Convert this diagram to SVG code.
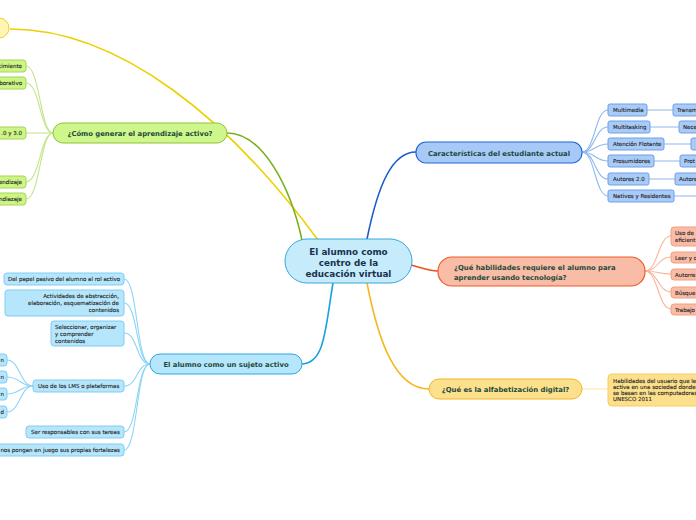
<svg xmlns="http://www.w3.org/2000/svg" width="696" height="520" viewBox="0 0 696 520">
<style>
text{font-family:"DejaVu Sans","Liberation Sans",sans-serif}
.tm{font-size:8.8px;font-weight:bold;fill:#17324e;text-anchor:middle}
.t1{font-size:6.85px;font-weight:bold;fill:#1b4a3a}
.tc{font-size:5.5px;fill:#262626;stroke:#262626;stroke-width:0.12}
.c{fill:none;stroke-width:1.1}
.m{fill:none;stroke-width:1.6}
.gN{fill:#cff68a;stroke:#8cc43c}
.gC{fill:#cdf585;stroke:#a5d655}
.bN{fill:#a6c9f8;stroke:#1f68d6;stroke-width:1.2}
.bC{fill:#a9cbf8;stroke:#6f9fe8}
.sN{fill:#f9bca6;stroke:#ee5b28;stroke-width:1.2}
.sC{fill:#f9bca6;stroke:#f39f80}
.oN{fill:#fde08c;stroke:#f3b62c}
.oC{fill:#fde08c;stroke:#f7cc66}
.lN{fill:#b6e6fc;stroke:#28a7e0}
.lC{fill:#b6e6fc;stroke:#7fcdf2}
</style>
<g id="connectors">
<path class="m" stroke="#ecd000" d="M10,29 C120,29 230,120 318,240"/>
<path class="m" stroke="#76b01a" d="M227,133 C262,133 290,185 302,240"/>
<path class="m" stroke="#1a5ccc" d="M367,239 C378,185 392,152 416,152"/>
<path class="m" stroke="#e8501e" d="M411,265 C422,268 428,271 438,271"/>
<path class="m" stroke="#f5b820" d="M367,283 C378,340 395,389 429,389"/>
<path class="m" stroke="#1aa0dc" d="M333,283 C325,330 325,364 301,364"/>
<g stroke="#c3e58a">
<path class="c" d="M53,133 C40,133 40,66 26,66"/>
<path class="c" d="M53,133 C40,133 40,83 26,83"/>
<path class="c" d="M53,133 L26,133"/>
<path class="c" d="M53,133 C40,133 40,182 26,182"/>
<path class="c" d="M53,133 C40,133 40,199 26,199"/>
</g>
<g stroke="#8fb8ef">
<path class="c" d="M582,152 C595,152 595,110 608,110"/>
<path class="c" d="M582,152 C595,152 595,127 608,127"/>
<path class="c" d="M582,152 C595,152 595,144 608,144"/>
<path class="c" d="M582,152 C595,152 595,161 608,161"/>
<path class="c" d="M582,152 C595,152 595,179 608,179"/>
<path class="c" d="M582,152 C595,152 595,196 608,196"/>
<path class="c" d="M647,110 L673,110 M650,127 L679,127 M664,144 L691,144 M654,161 L680,161 M649,179 L675,179 M674,196 L696,196"/>
</g>
<g stroke="#f8b49a">
<path class="c" d="M645,271 C658,271 658,236 671,236"/>
<path class="c" d="M645,271 C658,271 658,257 671,257"/>
<path class="c" d="M645,271 C658,271 658,274 671,274"/>
<path class="c" d="M645,271 C658,271 658,292 671,292"/>
<path class="c" d="M645,271 C658,271 658,309 671,309"/>
</g>
<path class="c" stroke="#fde6a6" d="M582,389 L608,389"/>
<g stroke="#8dd5f5">
<path class="c" d="M150,364 C136,364 138,279 124,279"/>
<path class="c" d="M150,364 C136,364 138,303 124,303"/>
<path class="c" d="M150,364 C136,364 138,333 124,333"/>
<path class="c" d="M150,364 C136,364 138,386 124,386"/>
<path class="c" d="M150,364 C136,364 138,432 124,432"/>
<path class="c" d="M150,364 C136,364 138,450 124,450"/>
<path class="c" d="M33,386 C20,386 20,360 7,360"/>
<path class="c" d="M33,386 C20,386 20,377 7,377"/>
<path class="c" d="M33,386 C20,386 20,394 7,394"/>
<path class="c" d="M33,386 C20,386 20,412 7,412"/>
</g>
</g>
<g id="center">
<rect x="285" y="239" width="127" height="44" rx="22" fill="#c6ebfb" stroke="#36a6dc"/>
<text class="tm" x="348.5" y="255">El alumno como</text>
<text class="tm" x="348.5" y="266">centro de la</text>
<text class="tm" x="348.5" y="276.5">educación virtual</text>
</g>
<g id="yellow-node">
<circle cx="-1" cy="28" r="10" fill="#fff6b2" stroke="#f0d020"/>
</g>
<g id="green">
<rect class="gN" x="53" y="123" width="174" height="20" rx="10"/>
<text class="t1" x="140" y="135.5" text-anchor="middle">¿Cómo generar  el aprendizaje activo?</text>
<rect class="gC" x="-60" y="60" width="86" height="12" rx="3"/>
<text class="tc" x="22" y="68" text-anchor="end">cimiento</text>
<rect class="gC" x="-60" y="77" width="86" height="12" rx="3"/>
<text class="tc" x="22" y="85" text-anchor="end">borativo</text>
<rect class="gC" x="-60" y="127" width="86" height="12" rx="3"/>
<text class="tc" x="22" y="135" text-anchor="end">.0 y 3.0</text>
<rect class="gC" x="-60" y="176" width="86" height="12" rx="3"/>
<text class="tc" x="22" y="184" text-anchor="end">endizaje</text>
<rect class="gC" x="-60" y="193" width="86" height="12" rx="3"/>
<text class="tc" x="22" y="201" text-anchor="end">ndiazaje</text>
</g>
<g id="caracteristicas">
<rect class="bN" x="416" y="142" width="166" height="21" rx="10"/>
<text class="t1" x="499" y="155.5" text-anchor="middle">Características del estudiante actual</text>
<rect class="bC" x="608" y="104" width="39" height="12" rx="2"/>
<text class="tc" x="613" y="112">Multimedia</text>
<rect class="bC" x="608" y="121" width="42" height="12" rx="2"/>
<text class="tc" x="613" y="129">Multitasking</text>
<rect class="bC" x="608" y="138" width="56" height="12" rx="2"/>
<text class="tc" x="613" y="146">Atención Flotante</text>
<rect class="bC" x="608" y="155" width="46" height="12" rx="2"/>
<text class="tc" x="613" y="163">Prosumidores</text>
<rect class="bC" x="608" y="173" width="41" height="12" rx="2"/>
<text class="tc" x="613" y="181">Autores 2.0</text>
<rect class="bC" x="608" y="190" width="66" height="12" rx="2"/>
<text class="tc" x="613" y="198">Nativos y Residentes</text>
<rect class="bC" x="673" y="104" width="40" height="12" rx="2"/>
<text class="tc" x="677" y="112">Transm</text>
<rect class="bC" x="679" y="121" width="40" height="12" rx="2"/>
<text class="tc" x="683" y="129">Nece</text>
<rect class="bC" x="691" y="138" width="40" height="12" rx="2"/>
<rect class="bC" x="680" y="155" width="40" height="12" rx="2"/>
<text class="tc" x="684" y="163">Prot</text>
<rect class="bC" x="675" y="173" width="40" height="12" rx="2"/>
<text class="tc" x="679" y="181">Autore</text>
</g>
<g id="habilidades">
<rect class="sN" x="438" y="257" width="207" height="29" rx="14"/>
<text class="t1" x="454" y="269.5">¿Qué habilidades requiere el alumno para</text>
<text class="t1" x="454" y="279.5">aprender usando tecnología?</text>
<rect class="sC" x="671" y="227" width="40" height="19" rx="3"/>
<text class="tc" x="675" y="235">Uso de</text>
<text class="tc" x="675" y="242">eficient</text>
<rect class="sC" x="671" y="252" width="40" height="11" rx="3"/>
<text class="tc" x="675" y="259.5">Leer y c</text>
<rect class="sC" x="671" y="269" width="40" height="11" rx="3"/>
<text class="tc" x="675" y="276.5">Autorre</text>
<rect class="sC" x="671" y="287" width="40" height="11" rx="3"/>
<text class="tc" x="675" y="294.5">Búsque</text>
<rect class="sC" x="671" y="304" width="40" height="11" rx="3"/>
<text class="tc" x="675" y="311.5">Trabajo</text>
</g>
<g id="alfabetizacion">
<rect class="oN" x="429" y="379" width="153" height="20" rx="10"/>
<text class="t1" x="505.5" y="392" text-anchor="middle">¿Qué es la alfabetización digital?</text>
<rect class="oC" x="608" y="374" width="110" height="32" rx="4"/>
<text class="tc" x="613" y="383">Habilidades del usuario que le</text>
<text class="tc" x="613" y="389">activa en una sociedad donde</text>
<text class="tc" x="613" y="395">se basan en las computadoras</text>
<text class="tc" x="613" y="401">UNESCO 2011</text>
</g>
<g id="sujeto-activo">
<rect class="lN" x="150" y="354" width="152" height="20" rx="10"/>
<text class="t1" x="226" y="366.5" text-anchor="middle">El alumno como un sujeto activo</text>
<rect class="lC" x="4" y="273" width="120" height="12" rx="3"/>
<text class="tc" x="8" y="281">Del papel pasivo del alumno al rol activo</text>
<rect class="lC" x="5" y="290" width="119" height="26" rx="3"/>
<text class="tc" x="119" y="298" text-anchor="end">Actividades de abstracción,</text>
<text class="tc" x="119" y="305" text-anchor="end">elaboración, esquematización de</text>
<text class="tc" x="119" y="312" text-anchor="end">contenidos</text>
<rect class="lC" x="51" y="321" width="73" height="25" rx="3"/>
<text class="tc" x="55" y="329">Seleccionar, organizar</text>
<text class="tc" x="55" y="336">y comprender</text>
<text class="tc" x="55" y="343">contenidos</text>
<rect class="lC" x="33" y="380" width="91" height="12" rx="3"/>
<text class="tc" x="38" y="388">Uso de los LMS o plataformas</text>
<rect class="lC" x="26" y="426" width="98" height="12" rx="3"/>
<text class="tc" x="31" y="434">Ser responsables con sus tareas</text>
<rect class="lC" x="-40" y="444" width="164" height="12" rx="3"/>
<text class="tc" x="120" y="452" text-anchor="end">nos pongan en juego sus propias fortalezas</text>
<rect class="lC" x="-40" y="354" width="47" height="12" rx="3"/>
<text class="tc" x="4" y="362" text-anchor="end">n</text>
<rect class="lC" x="-40" y="371" width="47" height="12" rx="3"/>
<text class="tc" x="4" y="379" text-anchor="end">n</text>
<rect class="lC" x="-40" y="388" width="47" height="12" rx="3"/>
<text class="tc" x="4" y="396" text-anchor="end">n</text>
<rect class="lC" x="-40" y="406" width="47" height="12" rx="3"/>
<text class="tc" x="4" y="414" text-anchor="end">d</text>
</g>
</svg>
